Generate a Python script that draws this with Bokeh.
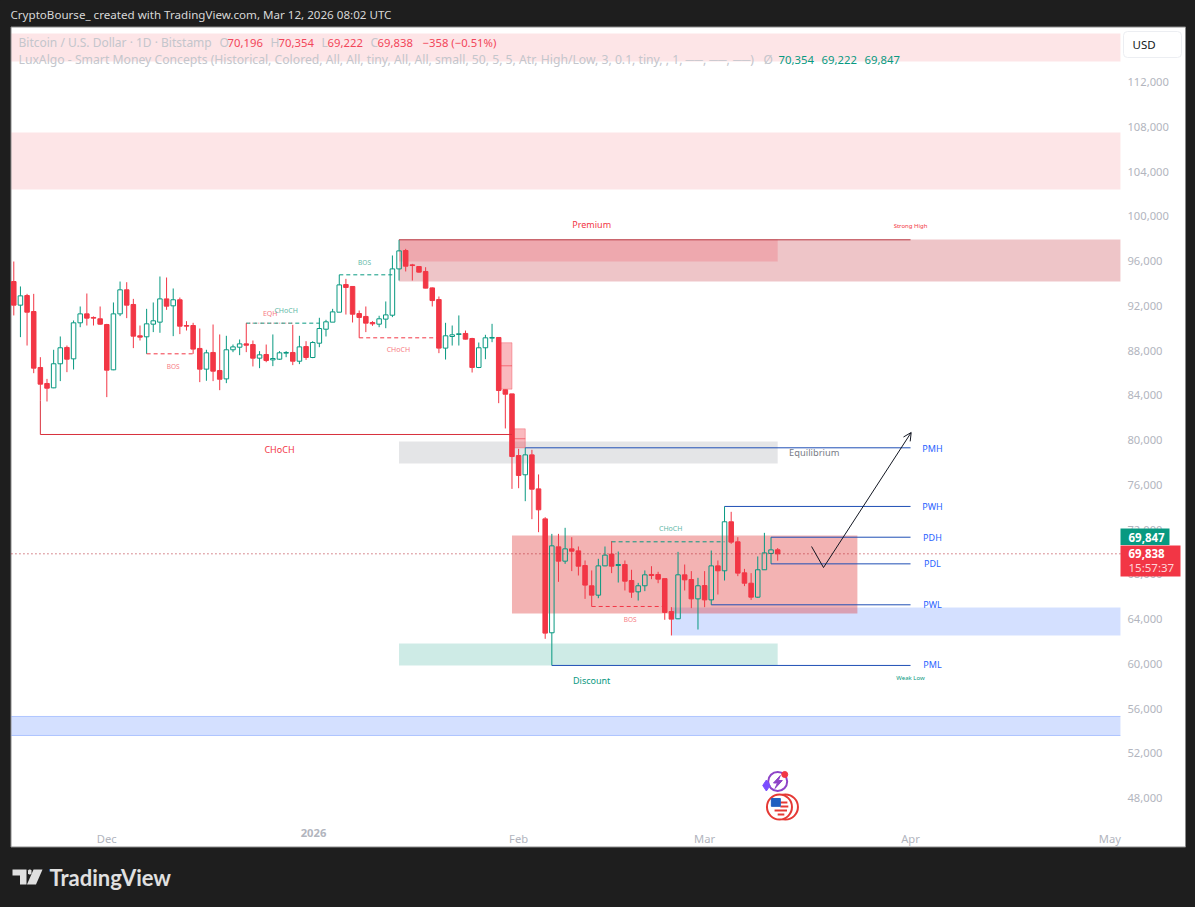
from bokeh.plotting import figure
from bokeh.embed import file_html
from bokeh.resources import INLINE
from bokeh.core.properties import value
from bokeh.models import (Arrow, BoxAnnotation, FixedTicker, Label, NumeralTickFormatter,
                          OpenHead, PolyAnnotation, Range1d)

# daily candles, Nov 17 2025 .. Mar 12 2026, day 0 is Dec 1
days = list(range(-14, 102))
opens = [94170, 92060, 92920, 91490, 86490, 85060, 84670, 86820, 88280, 87260,
         90480, 91280, 90960, 90840, 90330, 86280, 91280, 93430, 92120, 89320,
         89230, 90360, 90540, 92620, 92000, 92540, 90240, 90240, 88190, 86340,
         87830, 86220, 85470, 88070, 88300, 88600, 88540, 87320, 87650, 87170,
         87230, 87770, 87830, 87050, 88360, 87380, 88660, 89910, 90540, 91430,
         93900, 93730, 91310, 91050, 90510, 90360, 90810, 91160, 95300, 96940,
         95660, 95510, 95070, 93600, 92560, 88220, 89260, 89440, 89530, 89080,
         86490, 88250, 89110, 89170, 84500, 84130, 78620, 76900, 78680, 75640,
         72960, 62780, 70460, 69180, 70280, 70100, 68790, 66980, 66140, 68760,
         69810, 68790, 68880, 67450, 66440, 66980, 67990, 67990, 67620, 64680,
         64030, 67960, 67540, 65810, 67000, 65720, 68760, 68320, 72700, 70910,
         68140, 67210, 65960, 68410, 69870, 70196]
highs = [95960, 93730, 93070, 93070, 87410, 85470, 88070, 89260, 88450, 90690,
         91940, 93100, 91050, 91940, 90390, 92300, 94170, 94110, 92620, 90240,
         91730, 92300, 94620, 94530, 93550, 92740, 90630, 90480, 89970, 88070,
         90330, 89440, 89320, 88540, 88990, 90450, 88900, 87950, 88540, 89440,
         87950, 87950, 90300, 89320, 88840, 88840, 90930, 90750, 91730, 94770,
         94410, 93730, 91580, 91940, 90630, 91110, 92390, 96500, 97900, 97090,
         95750, 95540, 95450, 93640, 92830, 90480, 90240, 91140, 89790, 89140,
         88720, 89410, 90390, 89200, 84520, 84130, 79220, 79310, 79130, 76930,
         73110, 71620, 71620, 72160, 71320, 70490, 69240, 68350, 69390, 70490,
         70970, 70040, 69240, 68410, 67240, 68350, 68730, 68230, 67630, 65070,
         70010, 68880, 68290, 67690, 68290, 70130, 69240, 74070, 73590, 71320,
         68490, 68110, 69600, 71710, 71320, 70354]
lows = [91140, 89200, 88450, 85980, 83540, 83450, 84640, 85270, 86070, 86310,
        90090, 90240, 90240, 90300, 83840, 86250, 91080, 90900, 88220, 88900,
        87710, 89650, 89590, 91640, 89290, 89470, 89790, 87710, 85180, 85300,
        85270, 84460, 85090, 87860, 87590, 87860, 86580, 86430, 86960, 86610,
        87170, 87410, 86700, 86790, 87170, 87320, 88300, 89260, 90540, 91430,
        91220, 90510, 89140, 89650, 90210, 90090, 90000, 90990, 94260, 95070,
        94260, 94950, 93560, 91940, 87770, 87200, 88450, 88450, 88990, 86040,
        86430, 87230, 88750, 83300, 81040, 75640, 75700, 74540, 72930, 71770,
        62240, 59860, 67330, 68940, 68290, 67900, 65810, 65130, 65870, 68730,
        68110, 67270, 66560, 65900, 65660, 66500, 67570, 67210, 63940, 62540,
        64000, 66560, 64980, 63070, 65070, 65280, 66200, 67450, 70730, 67840,
        66950, 65720, 65900, 68400, 68940, 69222]
closes = [92060, 92890, 91430, 86430, 85000, 84640, 86820, 88250, 87230, 90480,
          91280, 90900, 90900, 90360, 86250, 91280, 93430, 92060, 89290, 89200,
          90390, 90660, 92620, 91970, 92540, 90180, 90180, 88130, 86340, 87800,
          86160, 85440, 88070, 88330, 88600, 88480, 87320, 87620, 87110, 87290,
          87800, 87830, 87050, 88330, 87380, 88720, 89970, 90570, 91460, 93870,
          93640, 91250, 90960, 90450, 90390, 90840, 91190, 95300, 96910, 95540,
          95600, 95010, 93580, 92470, 88220, 89320, 89410, 89500, 89020, 86490,
          88250, 89140, 89170, 84430, 84100, 78530, 76840, 78680, 75610, 73770,
          62750, 70550, 69180, 70280, 70070, 68730, 67040, 66140, 68760, 69720,
          68730, 68880, 67390, 66410, 66980, 67960, 67900, 67570, 64600, 64000,
          67960, 67510, 65810, 66980, 65720, 68760, 68320, 72700, 70880, 68110,
          67210, 65960, 68410, 69920, 70190, 69838]

price_ticks = list(range(48000, 116000, 4000))
month_days = [0, 62, 90, 121, 151]
month_names = ["Dec", "Feb", "Mar", "Apr", "May"]

# the chart pane ends here, the rest of the range is price scale and page
RIGHT = 152.6
LEFT = -14.35
BOTTOM = 45467

# zones: left day, right day, top, bottom
zone_left = [LEFT, LEFT, 44, 44, 44, 44, 85, LEFT, 61, 59.3, 61.3]
zone_right = [RIGHT, RIGHT, RIGHT, 101, 101, 101, RIGHT, RIGHT, 113, 61, 63]
zone_top = [116340, 107490, 97930, 97930, 79870, 61820, 65040, 55300, 71470, 88700, 81010]
zone_bottom = [113840, 102400, 94170, 95960, 77910, 59860, 62540, 53600, 64500, 84550, 79310]
zone_color = ["#f23645", "#f23645", "#c84048", "#f23645", "#787b86", "#089981", "#2962ff",
              "#2962ff", "#e03c3c", "#f23645", "#f23645"]
zone_alpha = [0.13, 0.13, 0.3, 0.2, 0.2, 0.2, 0.2, 0.2, 0.39, 0.35, 0.35]

# structure levels: from day, to day, price
red_x0, red_x1, red_y = [-10], [61], [80500]
blue_x0 = [63, 93, 100, 100, 91, 67]
blue_x1 = [121, 121, 121, 121, 121, 121]
blue_y = [79310, 74070, 71320, 68940, 65280, 59860]
dash_red_x0, dash_red_x1, dash_red_y = [6, 38, 73], [13, 50, 84], [87710, 89140, 65130]
dash_green_x0, dash_green_x1, dash_green_y = [21, 35, 76], [32, 43, 93], [90450, 94770, 70910]

labels = [
    ("Premium", 73, 99270, "#f23645", "9px"), ("Strong High", 121, 99090, "#f23645", "6px"),
    ("Equilibrium", 106.5, 78890, "#787b86", "9.3px"), ("CHoCH", 26, 79160, "#f23645", "9px"),
    ("Discount", 73, 58520, "#089981", "9px"), ("Weak Low", 121, 58780, "#089981", "6px"),
    ("BOS", 10, 86580, "#f77c85", "6.5px"), ("EQH", 24.6, 91310, "#f77c85", "7px"),
    ("CHoCH", 27, 91580, "#5fb9a8", "7px"), ("BOS", 38.8, 95870, "#5fb9a8", "6.5px"),
    ("CHoCH", 43.9, 88100, "#f77c85", "7px"), ("CHoCH", 84.9, 72100, "#5fb9a8", "7px"),
    ("BOS", 78.8, 63970, "#f77c85", "6.5px"),
    ("PMH", 124.3, 79230, "#2962ff", "9px"), ("PWH", 124.3, 74070, "#2962ff", "9px"),
    ("PDH", 124.3, 71290, "#2962ff", "9px"), ("PDL", 124.3, 68950, "#2962ff", "9px"),
    ("PWL", 124.3, 65330, "#2962ff", "9px"), ("PML", 124.3, 59950, "#2962ff", "9px"),
]

FONT = "Noto Sans"
RED = "#f23645"
GREEN = "#089981"
BLUE = "#1f4fb5"

# the frame fills the whole page so nothing drawn on it gets clipped
p = figure(output_backend="svg", toolbar_location=None, x_axis_location="below",
           y_axis_location="right", frame_width=1195, frame_height=907,
           x_range=Range1d(-16.0, 163.9), y_range=Range1d(38228, 119286),
           min_border=0, border_fill_color="#1e1e1e", background_fill_color="#1e1e1e",
           outline_line_color=None)
p.grid.visible = False

p.yaxis.ticker = FixedTicker(ticks=price_ticks)
p.yaxis.formatter = NumeralTickFormatter(format="0,0")
p.xaxis.ticker = FixedTicker(ticks=month_days)
p.xaxis.major_label_overrides = dict(zip(month_days, month_names))
for ax in [p.xaxis[0], p.yaxis[0]]:
    ax.axis_line_color = None
    ax.major_tick_line_color = None
    ax.minor_tick_line_color = None
    ax.major_label_text_color = "#b2b5be"
    ax.major_label_text_font = FONT
    ax.major_label_text_font_size = "11.2px"
p.yaxis.fixed_location = RIGHT
p.xaxis.fixed_location = BOTTOM
p.yaxis.major_label_standoff = 1
p.xaxis.major_label_standoff = -1


def canvas_box(x0, x1, y0, y1, **kw):
    b = BoxAnnotation(left=x0, right=x1, top=y0, bottom=y1, left_units="canvas",
                      right_units="canvas", top_units="canvas", bottom_units="canvas", **kw)
    p.add_layout(b)
    return b


def canvas_text(x, y, text, color, size="12px", align="left", bold=False, font=FONT):
    p.add_layout(Label(x=x, y=y, x_units="canvas", y_units="canvas", text=text,
                       text_color=color, text_font=font, text_font_size=size, text_align=align,
                       text_baseline="middle", text_font_style="bold" if bold else "normal"))


canvas_box(10.5, 1185, 26.5, 846.5, fill_color="white", fill_alpha=1, line_color="#8a8a8a",
           line_width=1, line_alpha=1, level="underlay")

p.quad(left=zone_left, right=zone_right, top=zone_top, bottom=zone_bottom, color=zone_color,
       fill_alpha=zone_alpha, line_alpha=0)
# edges of the lower blue band and of the two imbalance boxes
p.segment(zone_left[7:8] * 2, [55300, 53600], zone_right[7:8] * 2, [55300, 53600], line_color="#2962ff",
          line_alpha=0.3)
p.quad(left=zone_left[9:], right=zone_right[9:], top=zone_top[9:], bottom=zone_bottom[9:],
       fill_alpha=0, line_color=RED, line_alpha=0.35)
p.segment([59.3, 61.3], [86640, 80120], [61, 63], [86640, 80120], line_color=RED, line_alpha=0.6)

# candles
colors = [GREEN if c >= o else RED for o, c in zip(opens, closes)]
tops = [max(o, c) for o, c in zip(opens, closes)]
bottoms = [min(o, c) for o, c in zip(opens, closes)]
fills = [0 if c >= o else 1 for o, c in zip(opens, closes)]
p.segment(days, highs, days, tops, line_color=colors)
p.segment(days, bottoms, days, lows, line_color=colors)
p.vbar(x=days, top=tops, bottom=bottoms, width=0.68, fill_color=colors, fill_alpha=fills,
       line_color=colors)

# levels
p.segment(red_x0, red_y, red_x1, red_y, line_color="#d8303c")
p.segment([-10], [83540], [-10], [80500], line_color="#d8303c")
p.segment([44], [97900], [121], [97900], line_color="#b83a44")
p.segment(blue_x0, blue_y, blue_x1, blue_y, line_color=BLUE)
p.segment(dash_red_x0, dash_red_y, dash_red_x1, dash_red_y, line_color=RED, line_dash="4 3")
p.segment(dash_green_x0, dash_green_y, dash_green_x1, dash_green_y, line_color=GREEN, line_dash="4 3")
p.segment([21], [90450], [28], [90450], line_color=RED, line_dash="1 2", line_alpha=0.6)

p.text(x=[l[1] for l in labels], y=[l[2] for l in labels], text=[l[0] for l in labels],
       text_color=[l[3] for l in labels], text_font_size=[l[4] for l in labels],
       text_font=value(FONT), text_align="center", text_baseline="middle")

# last price line
p.segment([LEFT], closes[-1:], [RIGHT], closes[-1:], line_color="#b5232e", line_dash="1 3")

# drawn arrow
p.line([106.1, 107.9], [70490, 68610], line_color="#131722")
p.add_layout(Arrow(x_start=107.9, y_start=68610, x_end=121.1, y_end=80680, line_color="#131722", line_width=1,
                   end=OpenHead(size=8, line_color="#131722", line_width=1)))

# event icons
p.scatter([101.0], [49488], size=19, fill_alpha=0, line_color="#8e44c8", line_width=2)
p.scatter([102.06], [50114], size=6, color="#f23645")
p.scatter([99.3], [49131], marker="diamond", size=11, color="#7b4dff")
p.patch([101.4, 100.37, 100.97, 100.6, 101.7, 101.1], [50025, 49355, 49355, 48863, 49578, 49578],
        color="#8e44c8")
p.scatter([102.17, 101.27], [47210, 47210], size=25, fill_color="white", line_color="#e53935",
          line_width=2)
p.segment([101.4, 101.4, 100.53, 101.0], [47612, 47254, 46897, 46539],
          [102.46, 102.6, 102.4, 102.0], [47612, 47254, 46897, 46539], line_color="#e53935", line_width=2)
p.quad(left=[100.05], right=[101.4], top=[47969], bottom=[47270], color="#2060c0")

# header and legend
canvas_text(10, 14, "CryptoBourse_ created with TradingView.com, Mar 12, 2026 08:02 UTC", "#d8d8d8", size="11.6px")
canvas_text(18, 42, "Bitcoin / U.S. Dollar · 1D · Bitstamp", "#c4c6cc")
for x, t in [(219, "O"), (270, "H"), (321, "L"), (370, "C")]:
    canvas_text(x, 42, t, "#c4c6cc")
for x, t in [(227, "70,196"), (278, "70,354"), (327, "69,222"), (377, "69,838"), (422, "−358 (−0.51%)")]:
    canvas_text(x, 42, t, "#f2465a", size="11.3px")
canvas_text(18, 59, "LuxAlgo - Smart Money Concepts (Historical, Colored, All, All, tiny, All, All, small, "
            "50, 5, 5, Atr, High/Low, 3, 0.1, tiny, , 1, ──, ──, ──)", "#c4c6cc", size="12.2px")
canvas_text(763, 59, "Ø", "#c4c6cc")
for x, t in [(778, "70,354"), (821, "69,222"), (864, "69,847")]:
    canvas_text(x, 59, t, GREEN, size="11.3px")

# price scale bits
canvas_box(1123, 1181, 31, 57, fill_color="white", fill_alpha=1, line_color="#eceef2", line_alpha=1,
           border_radius=4)
canvas_text(1132, 44, "USD", "#131722", size="11.5px")
canvas_box(1120, 1169, 528, 544.5, fill_color=GREEN, fill_alpha=1, line_alpha=0)
canvas_box(1120, 1180, 545, 576, fill_color=RED, fill_alpha=1, line_alpha=0)
canvas_text(1128, 536.5, "69,847", "white", size="11.5px", bold=True)
canvas_text(1128, 553, "69,838", "white", size="11.5px", bold=True)
canvas_text(1128, 567, "15:57:37", "#ffd5d8", size="11.5px")
canvas_text(313, 832, "2026", "#b2b5be", size="11.2px", align="center", bold=True)

# footer logo
LOGO = "#e0e0e0"
for xs, ys in [([12, 26, 26, 19.5, 19.5, 12], [869, 869, 884, 884, 875, 875]),
               ([33, 42, 35.5, 26.5], [869, 869, 884, 884]),
               ([27.5, 28.5, 30, 31, 31, 30, 28.5, 27.5], [870, 869, 869, 870, 873, 874, 874, 873])]:
    p.add_layout(PolyAnnotation(xs=xs, ys=ys, xs_units="canvas", ys_units="canvas",
                                fill_color=LOGO, fill_alpha=1, line_alpha=0))
canvas_text(49, 877, "TradingView", LOGO, size="22px", bold=True, font="Lato")

html = file_html(p, INLINE)
html = html.replace("</head>", "<style>html,body{margin:0;background:#1e1e1e}</style></head>", 1)
open("out.html", "w").write(html)
